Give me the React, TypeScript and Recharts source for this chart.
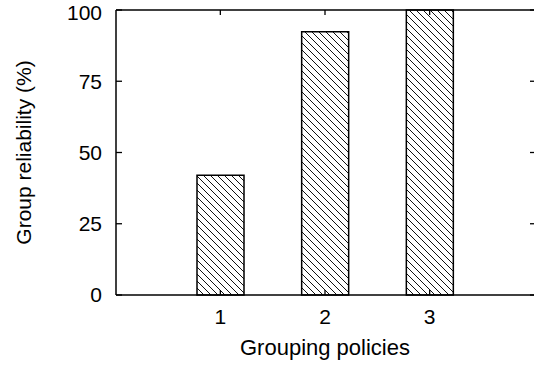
import React from 'react';
import { BarChart, Bar, XAxis, YAxis, ReferenceLine } from 'recharts';

const policies = ['1', '2', '3'];
const reliability = [42, 92.4, 100];
const yTicks = [0, 25, 50, 75, 100];

const data = policies.map((p, i) => ({ policy: p, value: reliability[i] }));

const FONT = '"Liberation Sans", Arial, Helvetica, sans-serif';

// gnuplot-style inward ticks: short marks at both ends of a reference line
const HorizTicks = (p: any) => {
  const left = Math.min(p.x1, p.x2);
  const right = Math.max(p.x1, p.x2);
  return (
    <g>
      <line x1={left} x2={left + 6} y1={p.y1} y2={p.y1} stroke="#000" strokeWidth={1.3} />
      <line x1={right - 4} x2={right} y1={p.y2} y2={p.y2} stroke="#000" strokeWidth={1.3} />
    </g>
  );
};

const VertTicks = (p: any) => {
  const top = Math.min(p.y1, p.y2);
  const bottom = Math.max(p.y1, p.y2);
  return (
    <g>
      <line x1={p.x1} x2={p.x1} y1={top} y2={top + 5} stroke="#000" strokeWidth={1.3} />
      <line x1={p.x1} x2={p.x1} y1={bottom - 5} y2={bottom} stroke="#000" strokeWidth={1.3} />
    </g>
  );
};

const YLabel = (props: any) => {
  const vb = props.viewBox || {};
  const cx = vb.x + 30.5;
  const cy = vb.y + vb.height / 2;
  return (
    <text
      x={cx}
      y={cy}
      transform={`rotate(-90, ${cx}, ${cy})`}
      textAnchor="middle"
      fontSize={21}
      fontFamily={FONT}
      fill="#000"
    >
      Group reliability (%)
    </text>
  );
};

const XLabel = (props: any) => {
  const vb = props.viewBox || {};
  return (
    <text
      x={vb.x + vb.width / 2}
      y={vb.y + 60}
      textAnchor="middle"
      fontSize={22}
      fontFamily={FONT}
      fill="#000"
    >
      Grouping policies
    </text>
  );
};

export default function App() {
  const axisLine = { stroke: '#000', strokeWidth: 1.5 };
  const tickStyle = { fill: '#000', fontSize: 21, fontFamily: FONT };
  const pad = { left: 52, right: 52 };

  return (
    <div style={{ position: 'absolute', left: 0, top: 0, background: '#fff' }}>
      <BarChart
        width={534}
        height={369}
        data={data}
        margin={{ top: 10, right: 0, bottom: 0, left: 0 }}
      >
        <defs>
          <pattern id="hatch" patternUnits="userSpaceOnUse" width={7} height={7}>
            <path
              d="M0,0 L7,7 M-1,6 L1,8 M6,-1 L8,1"
              stroke="#111"
              strokeWidth={1}
            />
          </pattern>
        </defs>
        <XAxis
          dataKey="policy"
          height={74}
          padding={pad}
          axisLine={axisLine}
          tickLine={false}
          tickSize={0}
          tickMargin={14}
          tick={tickStyle}
          label={XLabel}
        />
        <XAxis
          xAxisId="top"
          orientation="top"
          dataKey="policy"
          mirror
          padding={pad}
          axisLine={axisLine}
          tickLine={false}
          tick={false}
        />
        <YAxis
          domain={[0, 100]}
          ticks={yTicks}
          width={116}
          axisLine={axisLine}
          tickLine={false}
          tickSize={0}
          tickMargin={14}
          tick={tickStyle}
          label={YLabel}
        />
        {yTicks.map((v) => (
          <ReferenceLine key={`y${v}`} y={v} shape={HorizTicks} />
        ))}
        {policies.map((p) => (
          <ReferenceLine key={`x${p}`} x={p} shape={VertTicks} />
        ))}
        <Bar
          dataKey="value"
          barSize={47}
          fill="url(#hatch)"
          stroke="#000"
          strokeWidth={1.5}
          isAnimationActive={false}
        />
      </BarChart>
    </div>
  );
}
